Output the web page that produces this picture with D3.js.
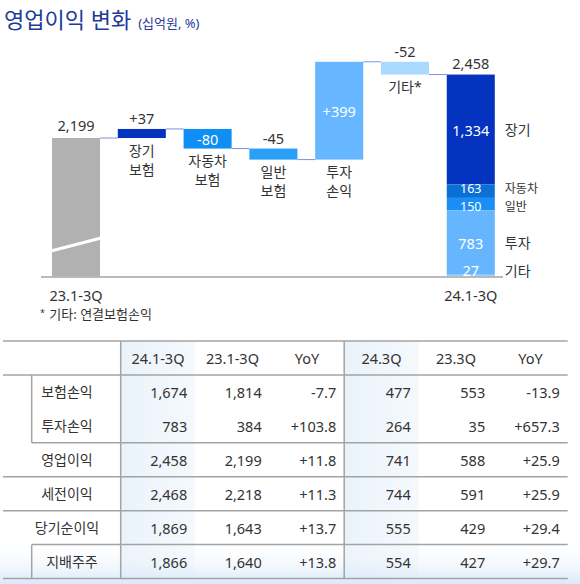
<!DOCTYPE html>
<html><head><meta charset="utf-8">
<script src="https://cdn.jsdelivr.net/npm/d3@7"></script>
<style>
html,body{margin:0;padding:0;background:#fff;}
svg{display:block;font-family:"Noto Sans","Noto Sans CJK KR",sans-serif;}
</style></head>
<body><svg id="c" width="580" height="584"></svg>
<script>
// ---- data ----
const titleMain = "영업이익 변화";
const titleUnit = "(십억원, %)";
const periodLabels = ["23.1-3Q", "24.1-3Q"];
const startValue = 2199;
const endValue = 2458;
const stepNames = [["장기","보험"], ["자동차","보험"], ["일반","보험"], ["투자","손익"], ["기타*"]];
const stepValues = [37, -80, -45, 399, -52];
const stepColors = ["#0433c0", "#0f8ef3", "#2a9ff8", "#66b7ff", "#a9d9ff"];
const stackNames = ["장기", "자동차", "일반", "투자", "기타"];
const stackValues = [1334, 163, 150, 783, 27];
const stackColors = ["#0433c0", "#0b70d6", "#1a8ef5", "#66b5ff", "#98cfff"];
const footnote = "기타: 연결보험손익";

const tableHeaders = ["24.1-3Q", "23.1-3Q", "YoY", "24.3Q", "23.3Q", "YoY"];
const rowLabels = ["보험손익", "투자손익", "영업이익", "세전이익", "당기순이익", "지배주주"];
const rowLevels = [2, 2, 1, 1, 1, 2];
const rowValues = [
  ["1,674", "1,814", "-7.7", "477", "553", "-13.9"],
  ["783", "384", "+103.8", "264", "35", "+657.3"],
  ["2,458", "2,199", "+11.8", "741", "588", "+25.9"],
  ["2,468", "2,218", "+11.3", "744", "591", "+25.9"],
  ["1,869", "1,643", "+13.7", "555", "429", "+29.4"],
  ["1,866", "1,640", "+13.8", "554", "427", "+29.7"]
];

// ---- setup ----
const svg = d3.select("#c");
const txt = "#333";
const NUM = 14.5, KOR = 14;
const defs = svg.append("defs");
const g1 = defs.append("linearGradient").attr("id","colShade").attr("x1","0").attr("x2","1").attr("y1","0").attr("y2","0");
g1.append("stop").attr("offset","0").attr("stop-color","#eaf3fb");
g1.append("stop").attr("offset","1").attr("stop-color","#f5f9fd");
const g2 = defs.append("linearGradient").attr("id","bottomGlow").attr("x1","0").attr("x2","0").attr("y1","0").attr("y2","1");
g2.append("stop").attr("offset","0").attr("stop-color","#ffffff").attr("stop-opacity",0);
g2.append("stop").attr("offset","1").attr("stop-color","#d6e7f8").attr("stop-opacity",0.9);

// Title
const title = svg.append("text").attr("x", 4).attr("y", 28).attr("fill", "#1d3b98");
title.append("tspan").attr("font-size", 22).text(titleMain);
title.append("tspan").attr("dx", 7).attr("font-size", 13).text(titleUnit);

// ---- waterfall ----
const cats = ["start", ...stepNames.map((d,i)=>"s"+i), "end"];
const x = d3.scaleBand().domain(cats).range([52, 494.8]).paddingInner(0.27).paddingOuter(0);
const baseY = 277;
const y = d3.scaleLinear().domain([1632, 2510]).range([baseY, 61.8]);

let running = startValue;
const steps = stepValues.map((v,i) => {
  const from = running; running += v;
  return {key:"s"+i, from, to: running, v, name: stepNames[i], color: stepColors[i]};
});

// connectors
const conn = svg.append("g").attr("stroke", "#7d90d8").attr("stroke-width", 1);
let prevKey = "start", prevVal = startValue;
steps.forEach(s => {
  conn.append("line").attr("x1", x(prevKey)+x.bandwidth()).attr("x2", x(s.key))
    .attr("y1", y(s.from)).attr("y2", y(s.from));
  prevKey = s.key; prevVal = s.to;
});
conn.append("line").attr("x1", x(prevKey)+x.bandwidth()).attr("x2", x("end"))
  .attr("y1", y(prevVal)).attr("y2", y(prevVal));

// start bar (broken)
svg.append("rect").attr("x", x("start")).attr("width", x.bandwidth())
  .attr("y", y(startValue)).attr("height", baseY - y(startValue)).attr("fill", "#b1b1b1");
svg.append("line").attr("x1", x("start")-1).attr("x2", x("start")+x.bandwidth()+1)
  .attr("y1", 251).attr("y2", 238).attr("stroke", "#fff").attr("stroke-width", 3);
svg.append("text").attr("x", x("start")+x.bandwidth()/2).attr("y", y(startValue)-13)
  .attr("text-anchor","middle").attr("dominant-baseline","central").attr("font-size",NUM).attr("fill",txt)
  .text(d3.format(",")(startValue));

// step bars
steps.forEach(s => {
  const top = y(Math.max(s.from, s.to)), bot = y(Math.min(s.from, s.to));
  const cx = x(s.key) + x.bandwidth()/2;
  svg.append("rect").attr("x", x(s.key)).attr("width", x.bandwidth())
    .attr("y", top).attr("height", bot-top).attr("fill", s.color);
  const lab = (s.v > 0 ? "+" : "") + s.v;
  const inside = (bot - top) > 16;
  svg.append("text").attr("x", cx).attr("y", inside ? (top+bot)/2 : top - 11)
    .attr("text-anchor","middle").attr("dominant-baseline","central").attr("font-size",NUM)
    .attr("fill", inside ? "#fff" : txt).text(lab);
  s.name.forEach((n,j) => {
    svg.append("text").attr("x", cx).attr("y", bot + 12 + j*19)
      .attr("text-anchor","middle").attr("dominant-baseline","central").attr("font-size",KOR)
      .attr("fill", txt).text(n);
  });
});

// end stacked bar
const total = d3.sum(stackValues);
const yS = d3.scaleLinear().domain([0, total]).range([baseY, y(endValue)]);
const ex = x("end"), cxe = ex + x.bandwidth()/2;
let acc = total;
const segs = stackValues.map((v,i) => {
  const top = yS(acc), bot = yS(acc - v); acc -= v;
  const h = bot - top;
  return {v, i, top, bot, ly: (h < 12) ? bot - 7 : (top+bot)/2, small: h >= 12 && h < 20};
});
// keep small neighbouring labels apart
const minGap = 18;
for (let k = 1; k < segs.length; k++) {
  const gap = segs[k].ly - segs[k-1].ly;
  if (gap < minGap) { segs[k-1].ly -= (minGap - gap)/2; segs[k].ly += (minGap - gap)/2; }
}
segs.forEach(s => {
  svg.append("rect").attr("x", ex).attr("width", x.bandwidth()).attr("y", s.top).attr("height", s.bot-s.top)
    .attr("fill", stackColors[s.i]);
});
segs.forEach(s => {
  svg.append("text").attr("x", cxe).attr("y", s.ly).attr("text-anchor","middle").attr("dominant-baseline","central")
    .attr("font-size", s.small ? 12.5 : NUM).attr("fill","#fff").text(d3.format(",")(s.v));
  svg.append("text").attr("x", ex + x.bandwidth() + 10).attr("y", s.ly).attr("dominant-baseline","central")
    .attr("font-size", s.small ? 12 : KOR).attr("fill",txt).text(stackNames[s.i]);
});
svg.append("text").attr("x", cxe).attr("y", y(endValue)-12).attr("text-anchor","middle").attr("dominant-baseline","central")
  .attr("font-size",NUM).attr("fill",txt).text(d3.format(",")(endValue));

// axis line
svg.append("line").attr("x1", 41).attr("x2", 503).attr("y1", baseY).attr("y2", baseY)
  .attr("stroke", "#b9b9b9").attr("stroke-width", 2);
[["start",0],["end",1]].forEach(([k,i]) => {
  svg.append("text").attr("x", x(k)+x.bandwidth()/2).attr("y", 295).attr("text-anchor","middle")
    .attr("dominant-baseline","central").attr("font-size",NUM).attr("fill",txt).text(periodLabels[i]);
});
const fn = svg.append("text").attr("x", 40).attr("y", 314).attr("dominant-baseline","central").attr("fill",txt);
fn.append("tspan").attr("font-size", 9).attr("dy", -2).text("*");
fn.append("tspan").attr("font-size", 13).attr("dx", 1).attr("dy", 2).text(" " + footnote);

// ---- table ----
const tX0 = 3, tX1 = 567.7, labelEnd = 120.7, bracketX = 31.7;
const cx = d3.scaleBand().domain(d3.range(tableHeaders.length)).range([labelEnd, tX1]);
const ry = d3.scaleBand().domain(d3.range(rowLabels.length + 1)).range([341, 578.5]);
const tTop = ry(0), tBot = ry.range()[1];

[0, 3].forEach(c => {
  svg.append("rect").attr("x", cx(c)).attr("width", cx.bandwidth()).attr("y", tTop).attr("height", tBot - tTop)
    .attr("fill", "url(#colShade)");
});
svg.append("rect").attr("x", 0).attr("width", 580).attr("y", 540).attr("height", 44).attr("fill", "url(#bottomGlow)");

const lines = svg.append("g").attr("stroke", "#a3a3a3").attr("stroke-width", 1.5);
const hline = (yy, xa) => lines.append("line").attr("x1", xa).attr("x2", tX1).attr("y1", yy).attr("y2", yy);
const vline = (xx, ya, yb) => lines.append("line").attr("x1", xx).attr("x2", xx).attr("y1", ya).attr("y2", yb);
hline(tTop, tX0);
hline(ry(1), tX0);
for (let r = 1; r < rowLabels.length; r++) {
  const a = rowLevels[r-1], b = rowLevels[r];
  if (a === 2 && b === 2) continue;
  hline(ry(r+1), (a === 2 || b === 2) ? bracketX : tX0);
}
hline(tBot, tX0);
let r0 = null;
rowLevels.forEach((lv, r) => {
  if (lv === 2 && r0 === null) r0 = r;
  const endGroup = lv === 2 && (r === rowLevels.length - 1 || rowLevels[r+1] !== 2);
  if (endGroup) { vline(bracketX, ry(r0+1), ry(r+1) + ry.bandwidth()); r0 = null; }
});
vline(labelEnd, tTop, tBot);
vline(cx(3), tTop, tBot);

tableHeaders.forEach((h,i) => {
  svg.append("text").attr("x", cx(i)+cx.bandwidth()/2).attr("y", ry(0)+ry.bandwidth()/2)
    .attr("text-anchor","middle").attr("dominant-baseline","central").attr("font-size",NUM).attr("fill",txt).text(h);
});
rowLabels.forEach((l,r) => {
  const yy = ry(r+1) + ry.bandwidth()/2;
  svg.append("text").attr("y", yy).attr("dominant-baseline","central").attr("font-size",KOR).attr("fill",txt)
    .attr("x", r === rowLabels.length-1 ? 72 : 67).attr("text-anchor","middle").text(l);
  rowValues[r].forEach((v,c) => {
    svg.append("text").attr("x", cx(c)+cx.bandwidth()-8).attr("y", yy).attr("text-anchor","end")
      .attr("dominant-baseline","central").attr("font-size",NUM).attr("fill",txt).text(v);
  });
});
</script></body></html>
